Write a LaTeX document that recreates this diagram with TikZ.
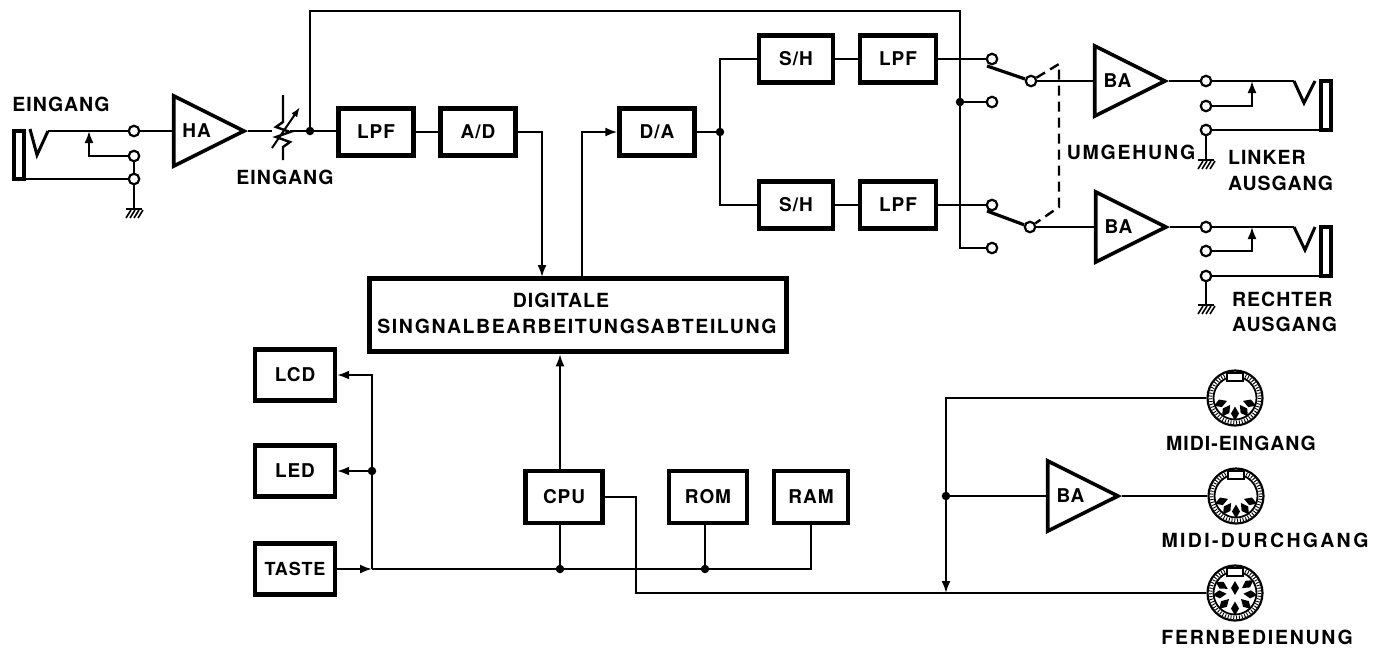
\documentclass[tikz,border=0pt]{standalone}
\usepackage{fontspec}
\setmainfont{TeX Gyre Heros}[LetterSpace=5]
\usetikzlibrary{arrows.meta,shapes.geometric}

\tikzset{
    >={Latex[length=12,width=9]},
    wire/.style={line width=2},
    labeltext/.style={font=\fontsize{19.5}{22}\selectfont\bfseries,inner sep=0,align=center},
    blockbox/.style={draw,line width=4.4,inner sep=0,minimum width=#1,minimum height=47,font=\fontsize{19}{20}\selectfont\bfseries},
    blockbox/.default=71,
    ampli/.style={draw,line width=3.6,isosceles triangle,isosceles triangle apex angle=53,anchor=apex,
        minimum height=66,minimum width=70,inner sep=0,font=\fontsize{19}{20}\selectfont\bfseries},
    terminal/.style={circle,draw,line width=2.2,fill=white,inner sep=0,minimum size=10.5},
    joint/.style={circle,fill,inner sep=0,minimum size=8.5},
    sleeve/.style={draw,line width=3.2,inner sep=0,minimum width=10},
    midiring/.style={circle,draw,line width=2.2,inner sep=0,minimum size=55},
    pics/ground/.style={code={
        \draw[line width=2.2] (-8,0) -- (8,0);
        \foreach \hx in {-3,1,5,9} {\draw[line width=1.6] (\hx,1) -- (\hx-5,9);}
    }},
    pics/midibody/.style={code={
        \draw[line width=1.8] (0,0) circle (21.5);
        \draw[line width=3.4,dash pattern=on 0.9 off 1.9] (0,0) circle (24.5);
        \draw[line width=1.6,fill=white] (-8,-25) rectangle (8,-17);
        \foreach \pinang in {#1} {
            \fill[rotate=\pinang,xshift=15.5] (-7,0) -- (0,-4) -- (7,0) -- (0,4) -- cycle;
        }
    }},
}

\begin{document}
\begin{tikzpicture}[x=1pt,y=-1pt]
    \useasboundingbox (0,0) rectangle (1385,649);

    % input side
    \node[sleeve,minimum height=48] (jackin) at (19,155) {};
    \node[terminal] (intip) at (134,131) {};
    \node[terminal] (insw) at (134,156) {};
    \node[terminal] (ingnd) at (134,179) {};
    \coordinate (intipv) at (48,131);
    \coordinate (inwiper) at (89,131);
    \coordinate (ingndend) at (134,209);
    \draw[line width=3] (intipv) -- (37,155) -- (30,129);
    \draw[wire] (intipv) -- (intip);
    \draw[wire,->] (insw) -| (inwiper);
    \draw[wire] (insw) -- (ingnd);
    \draw[wire] (ingnd -| jackin.east) -- (ingnd);
    \draw[wire] (ingnd) -- (ingndend);
    \pic at (ingndend) {ground};
    \node[labeltext] (ineingang) at (61,104) {EINGANG};

    \node[ampli] (ha) at (248,131) {HA};
    \draw[wire] (intip) -- (ha.lower side);

    % level control
    \coordinate (potin) at (272,131);
    \coordinate (potout) at (290,131);
    \coordinate (pottop) at (283,95);
    \coordinate (potbot) at (283,160);
    \draw[wire] (ha.apex) -- (potin);
    \draw[line width=2.4] (pottop) -- (283,122) -- (276,127) -- (290,132) -- (276,137) -- (290,142) -- (283,147) -- (potbot);
    \draw[wire,-{Latex[length=10,width=7]}] (272,148) -- (300,107);
    \node[labeltext] (poteingang) at (285,177) {EINGANG};
    \node[joint] (potjoint) at (310,131) {};
    \draw[wire] (potout) -- (potjoint);

    % signal path
    \node[blockbox=75] (lpfin) at (376,132) {LPF};
    \node[blockbox=75] (ad) at (478,132) {A/D};
    \node[blockbox=75] (da) at (657,132) {D/A};
    \node[joint] (dajoint) at (720,132) {};
    \node[blockbox=74] (shl) at (796,59) {S/H};
    \node[blockbox=76] (lpfl) at (898,59) {LPF};
    \node[blockbox=74] (shr) at (796,205) {S/H};
    \node[blockbox=76] (lpfr) at (898,205) {LPF};
    \draw[wire] (potjoint) -- (lpfin.west |- potjoint);
    \draw[wire] (lpfin) -- (ad);
    \draw[wire] (da) -- (dajoint);
    \draw[wire] (dajoint) |- (shl);
    \draw[wire] (dajoint) |- (shr);
    \draw[wire] (shl) -- (lpfl);
    \draw[wire] (shr) -- (lpfr);

    \node[draw,line width=5.5,minimum width=417,minimum height=73,inner sep=0] (dsp) at (578,315) {};
    \node[labeltext] (dsptop) at (561,300) {DIGITALE};
    \node[labeltext] (dspbot) at (577,326) {\addfontfeatures{LetterSpace=8}SINGNALBEARBEITUNGSABTEILUNG};
    \coordinate (adin) at (542,277);
    \coordinate (daout) at (582,277);
    \draw[wire,->] (ad.east) -| (adin);
    \draw[wire,->] (daout) |- (da.west);

    % bypass switches
    \node[terminal] (swla) at (992,59) {};
    \node[terminal] (swlb) at (992,102) {};
    \node[terminal] (swlc) at (1031,81) {};
    \node[terminal] (swra) at (992,205) {};
    \node[terminal] (swrb) at (992,248) {};
    \node[terminal] (swrc) at (1030,227) {};
    \node[joint] (byjoint) at (960,102) {};
    \coordinate (bytop) at (960,11);
    \coordinate (bybot) at (960,248);
    \coordinate (dashl) at (1059,64);
    \coordinate (dashr) at (1059,207);
    \draw[wire] (potjoint) |- (bytop) -- (byjoint);
    \draw[wire] (byjoint) -- (bybot) -- (swrb);
    \draw[wire] (byjoint) -- (swlb);
    \draw[wire] (lpfl) -- (swla);
    \draw[wire] (lpfr) -- (swra);
    \draw[line width=3.2] (987,66) -- (swlc);
    \draw[line width=3.2] (987,211) -- (swrc);
    \draw[line width=2.4,dash pattern=on 10 off 6] (swlc) -- (dashl) -- (dashr) -- (swrc);
    \node[labeltext] (umgehung) at (1131,152) {\addfontfeatures{LetterSpace=9}UMGEHUNG};

    % left output
    \node[ampli] (bal) at (1169,81) {BA};
    \node[terminal] (ltip) at (1206,81) {};
    \node[terminal] (lsw) at (1206,106) {};
    \node[terminal] (lgnd) at (1206,130) {};
    \node[sleeve,minimum height=49] (jackl) at (1326,105.5) {};
    \coordinate (ltipv) at (1294,81);
    \coordinate (lwiper) at (1252,81);
    \coordinate (lgndend) at (1206,160);
    \draw[wire] (swlc) -- (bal.lower side);
    \draw[wire] (bal.apex) -- (ltip);
    \draw[wire] (ltip) -- (ltipv);
    \draw[line width=3] (ltipv) -- (1304,103) -- (1315,81);
    \draw[wire,->] (lsw) -| (lwiper);
    \draw[wire] (lgnd) -- (lgnd -| jackl.west);
    \draw[wire] (lgnd) -- (lgndend);
    \pic at (lgndend) {ground};
    \node[labeltext,anchor=west] (lnametop) at (1228,157) {LINKER};
    \node[labeltext,anchor=west] (lnamebot) at (1228,183) {AUSGANG};

    % right output
    \node[ampli] (bar) at (1170,227) {BA};
    \node[terminal] (rtip) at (1206,227) {};
    \node[terminal] (rsw) at (1206,251) {};
    \node[terminal] (rgnd) at (1206,276) {};
    \node[sleeve,minimum height=49] (jackr) at (1326,251.5) {};
    \coordinate (rtipv) at (1294,227);
    \coordinate (rwiper) at (1252,227);
    \coordinate (rgndend) at (1206,305);
    \draw[wire] (swrc) -- (bar.lower side);
    \draw[wire] (bar.apex) -- (rtip);
    \draw[wire] (rtip) -- (rtipv);
    \draw[line width=3] (rtipv) -- (1305,250) -- (1315,227);
    \draw[wire,->] (rsw) -| (rwiper);
    \draw[wire] (rgnd) -- (rgnd -| jackr.west);
    \draw[wire] (rgnd) -- (rgndend);
    \pic at (rgndend) {ground};
    \node[labeltext,anchor=west] (rnametop) at (1232,299) {RECHTER};
    \node[labeltext,anchor=west] (rnamebot) at (1232,324) {AUSGANG};

    % control section
    \node[blockbox=80,minimum height=51] (lcd) at (295,375) {LCD};
    \node[blockbox=80,minimum height=51] (led) at (295,471) {LED};
    \node[blockbox=80,minimum height=51] (taste) at (295,569) {\fontsize{18}{20}\selectfont TASTE};
    \node[blockbox=77,minimum height=52] (cpu) at (564,497) {CPU};
    \node[blockbox=78,minimum height=52] (rom) at (708,497) {ROM};
    \node[blockbox=74,minimum height=52] (ram) at (811,497) {RAM};
    \node[joint] (ledjoint) at (372,471) {};
    \node[joint] (cpujoint) at (560,569) {};
    \node[joint] (romjoint) at (705,569) {};
    \coordinate (keyjoint) at (372,569);
    \coordinate (ramcorner) at (811,569);
    \draw[wire,->] (ledjoint) |- (lcd);
    \draw[wire,->] (ledjoint) -- (led);
    \draw[wire,->] (taste) -- (keyjoint);
    \draw[wire] (keyjoint) -- (ledjoint);
    \draw[wire] (keyjoint) -- (cpujoint);
    \draw[wire] (cpujoint) -- (romjoint);
    \draw[wire] (romjoint) -- (ramcorner) -- (ram);
    \draw[wire] (cpu.south -| cpujoint) -- (cpujoint);
    \draw[wire] (rom.south -| romjoint) -- (romjoint);
    \draw[wire,->] (cpu.north -| cpujoint) -- (dsp.south -| cpujoint);

    % midi section
    \node[midiring] (midiin) at (1235,398) {};
    \node[midiring] (midithru) at (1236,496) {};
    \node[midiring] (remote) at (1235,593) {};
    \pic at (midiin) {midibody={200,235,270,305,340}};
    \pic at (midithru) {midibody={200,235,270,305,340}};
    \pic at (remote) {midibody={150,185,225,270,315,355,35}};
    \fill (1235,588) +(-4,0) -- +(0,-7) -- +(4,0) -- +(0,7) -- cycle;
    \node[labeltext] (midiinname) at (1241,443) {MIDI-EINGANG};
    \node[labeltext] (midithruname) at (1265,540) {\addfontfeatures{LetterSpace=12}MIDI-DURCHGANG};
    \node[labeltext] (remotename) at (1257,637) {\addfontfeatures{LetterSpace=9}FERNBEDIENUNG};
    \node[ampli] (bamidi) at (1122,496) {BA};
    \node[joint] (midijoint) at (946,496) {};
    \coordinate (miditop) at (946,398);
    \coordinate (midibus) at (946,593);
    \coordinate (cpubus) at (636,593);
    \draw[wire] (midijoint) -- (miditop) -- (midiin);
    \draw[wire,->] (midijoint) -- (midibus);
    \draw[wire] (midijoint) -- (bamidi.lower side);
    \draw[wire] (bamidi.apex) -- (midithru);
    \draw[wire] (cpu.east) -| (cpubus) -- (remote);
\end{tikzpicture}
\end{document}
